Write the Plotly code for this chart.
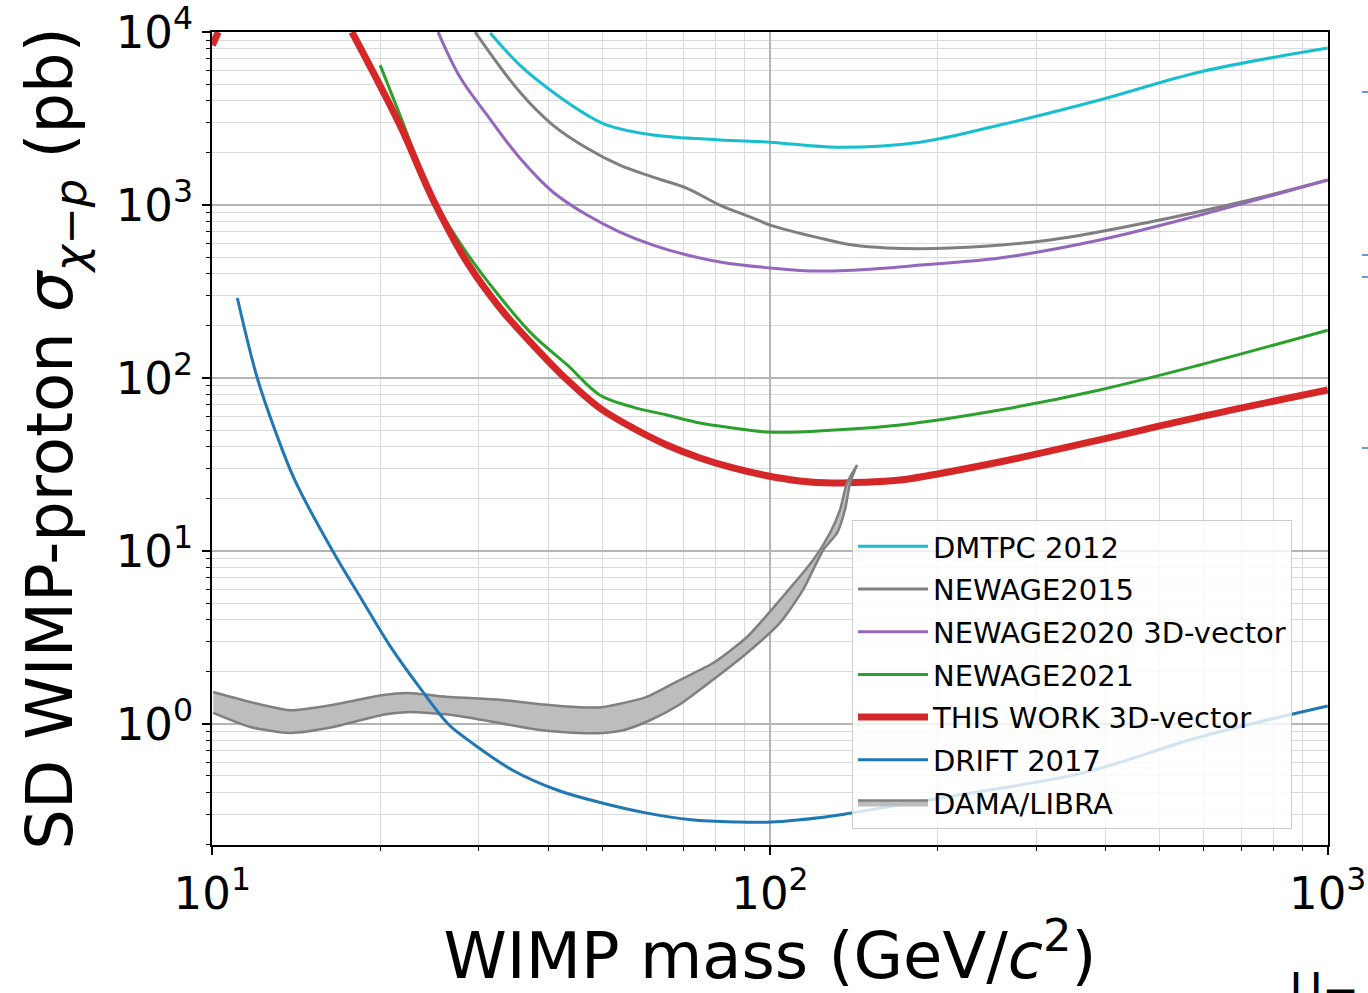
import plotly.graph_objects as go

# ---------------- data ----------------
dmtpc_m = [31.5, 35.6, 40.8, 47.0, 51.0, 61.7, 81.3, 100, 131.9, 185.8, 258, 390, 590, 1000]
dmtpc_s = [9870, 6440, 4500, 3310, 2900, 2540, 2380, 2310, 2160, 2310, 2900, 4050, 5880, 8090]

ng2015_m = [29.6, 35.6, 40.8, 47.0, 53.8, 61.7, 71.0, 81.3, 93.3, 100, 123, 140.9, 162, 210, 318, 480, 725, 1000]
ng2015_s = [10000, 4500, 2900, 2130, 1700, 1450, 1250, 1000, 841, 766, 644, 587, 565, 564, 628, 798, 1070, 1396]

ng2020_m = [25.4, 27.8, 31.1, 35.6, 40.8, 47.0, 53.8, 61.7, 71.0, 81.3, 100, 123, 162, 186, 258, 390, 590, 1000]
ng2020_s = [10000, 5495, 3310, 1870, 1190, 875, 698, 587, 514, 469, 433, 415, 433, 450, 494, 628, 875, 1396]

ng2021_m = [20.0, 21.7, 24.9, 28.6, 32.8, 37.6, 43.3, 49.5, 56.8, 65.3, 74.9, 85.9, 98.8, 113, 130, 171, 258, 390, 590, 1000]
ng2021_s = [6440, 3310, 1097, 528, 294, 177, 119, 79.8, 67.9, 61.1, 54.9, 51.4, 48.7, 48.7, 50.0, 53.5, 65.3, 85.3, 119, 189]

thiswork_m = [17.8, 21.7, 24.9, 28.6, 32.8, 37.6, 43.3, 49.5, 56.8, 65.3, 74.9, 85.9, 98.8, 113, 130, 149, 171, 258, 390, 590, 1000]
thiswork_s = [10000, 2900, 1070, 469, 254, 155, 97.3, 67.1, 51.4, 41.0, 34.5, 30.2, 27.2, 25.4, 24.7, 25.0, 25.7, 32.7, 43.9, 59.6, 85.3]

# small piece of the red curve visible at the top-left corner
thiswork_low_m = [10.0, 10.25]
thiswork_low_s = [8400, 10000]

drift_m = [11.09, 12.04, 12.97, 14.08, 16.41, 18.42, 20.84, 23.59, 26.48, 28.41, 29.9, 34.5, 41.5, 50.0, 59.9, 72.2, 86.9, 100.4, 125.6, 140.3, 219, 364, 590, 1000]
drift_s = [290, 100, 49.4, 25.4, 10.1, 5.42, 2.82, 1.61, 1.0, 0.830, 0.736, 0.542, 0.415, 0.349, 0.306, 0.279, 0.271, 0.271, 0.290, 0.306, 0.389, 0.521, 0.84, 1.27]

dama_up_m = [10.04, 11.70, 13.80, 16.47, 20.25, 22.36, 26.71, 32.82, 38.71, 45.47, 50.01, 59.95, 69.00, 79.05, 90.95, 104.2, 119.5, 128.1, 133.5, 137.4, 143.2]
dama_up_s = [1.53, 1.34, 1.20, 1.29, 1.47, 1.51, 1.43, 1.38, 1.30, 1.25, 1.25, 1.43, 1.80, 2.25, 3.18, 5.21, 8.87, 12.7, 17.3, 24.7, 31.4]
dama_lo_m = [10.04, 11.70, 13.80, 16.47, 20.25, 22.36, 26.71, 32.82, 38.71, 45.47, 50.01, 54.75, 60.94, 69.00, 79.05, 90.95, 104.2, 114.6, 124.5, 131.9, 136.3, 139.2, 143.2]
dama_lo_s = [1.16, 0.96, 0.887, 0.96, 1.13, 1.17, 1.13, 1.01, 0.923, 0.887, 0.887, 0.923, 1.05, 1.30, 1.80, 2.57, 3.84, 5.95, 10.1, 12.7, 17.3, 24.7, 31.4]

x_tickvals = [10, 100, 1000]
x_ticktext = ["10<sup>1</sup>", "10<sup>2</sup>", "10<sup>3</sup>"]
y_tickvals = [1, 10, 100, 1000, 10000]
y_ticktext = ["10<sup>0</sup>", "10<sup>1</sup>", "10<sup>2</sup>", "10<sup>3</sup>", "10<sup>4</sup>"]

FONT = "DejaVu Sans"

fig = go.Figure()

def line(x, y, name, color, width, rank, show=True):
    fig.add_trace(go.Scatter(
        x=x, y=y, mode="lines", name=name, legendrank=rank, showlegend=show,
        legendgroup=name,
        line=dict(color=color, width=width, shape="spline", smoothing=1.0),
        hoverinfo="skip"))

line(dmtpc_m, dmtpc_s, "DMTPC 2012", "#17becf", 3, 1)
line(ng2015_m, ng2015_s, "NEWAGE2015", "#7f7f7f", 3, 2)
line(ng2020_m, ng2020_s, "NEWAGE2020 3D-vector", "#9467bd", 3, 3)
line(ng2021_m, ng2021_s, "NEWAGE2021", "#2ca02c", 3, 4)
line(thiswork_m, thiswork_s, "THIS WORK 3D-vector", "#d62728", 7, 5)
line(thiswork_low_m, thiswork_low_s, "THIS WORK 3D-vector", "#d62728", 7, 5, show=False)

# DAMA/LIBRA band as closed polygon
fig.add_trace(go.Scatter(
    x=dama_up_m + dama_lo_m[::-1], y=dama_up_s + dama_lo_s[::-1],
    mode="lines", fill="toself", fillcolor="#bdbdbd",
    line=dict(color="#808080", width=2.5, shape="spline", smoothing=0.6),
    name="DAMA/LIBRA", legendgroup="DAMA/LIBRA", legendrank=7, hoverinfo="skip"))

line(drift_m, drift_s, "DRIFT 2017", "#1f77b4", 3, 6)

def minor_vals(lo, hi):
    return [d * 10 ** e for e in range(lo, hi) for d in range(2, 10)]

axis_common = dict(
    type="log", tickmode="array",
    tickfont=dict(family=FONT, size=45, color="black"),
    ticklabeloverflow="allow",
    ticks="outside", ticklen=8, tickwidth=1.5, tickcolor="black",
    showline=True, linecolor="black", linewidth=2, mirror=True,
    showgrid=True, gridcolor="#b4b4b4", gridwidth=1.5, zeroline=False,
)
minor_common = dict(tickmode="array", ticks="outside", ticklen=4, tickwidth=1,
                    tickcolor="black", showgrid=True, gridcolor="#dadada", gridwidth=1)

fig.update_xaxes(range=[0.9995, 3.0005], tickvals=x_tickvals, ticktext=x_ticktext,
                 minor=dict(tickvals=minor_vals(1, 3), **minor_common),
                 title=dict(text="WIMP mass (GeV/<i>c</i><sup>2</sup>)",
                            font=dict(family=FONT, size=64, color="black"), standoff=10),
                 **axis_common)
fig.update_yaxes(range=[-0.7, 4.0005], tickvals=y_tickvals, ticktext=y_ticktext,
                 minor=dict(tickvals=minor_vals(-1, 4), **minor_common),
                 title=dict(text="SD WIMP-proton <i>σ</i><sub><i>χ</i>−<i>p</i></sub> (pb)",
                            font=dict(family=FONT, size=64, color="black"), standoff=22),
                 **axis_common)

fig.update_layout(
    width=1368, height=993,
    margin=dict(l=212, r=40, t=32, b=148, autoexpand=False),
    plot_bgcolor="white", paper_bgcolor="white",
    font=dict(family=FONT, color="black"),
    legend=dict(x=0.5735, y=0.3998, xanchor="left", yanchor="top",
                font=dict(family=FONT, size=29, color="black"),
                bgcolor="rgba(255,255,255,0.8)", bordercolor="#cccccc", borderwidth=1,
                itemwidth=70, tracegroupgap=2),
    showlegend=True,
)

# stray marks at the right edge of the original crop
for yy in [92, 255, 277, 448]:
    fig.add_shape(type="line", xref="paper", yref="paper",
                  x0=(1362 - 212) / 1116, x1=(1368 - 212) / 1116,
                  y0=(845 - yy) / 813, y1=(845 - yy) / 813,
                  line=dict(color="#4472c4", width=1.5))
fig.add_annotation(text="U−", xref="paper", yref="paper",
                   x=(1288 - 212) / 1116, y=(845 - 962) / 813, xanchor="left", yanchor="top",
                   showarrow=False, font=dict(family=FONT, size=44, color="black"))

fig.write_html("out.html")
